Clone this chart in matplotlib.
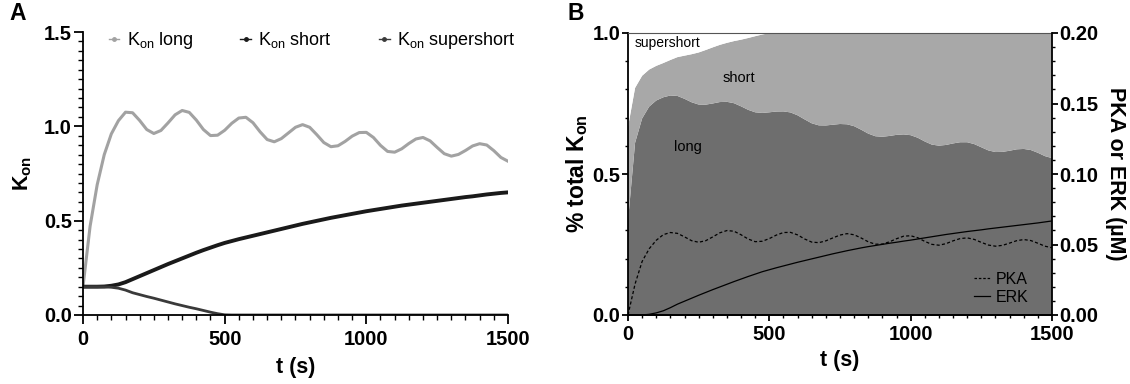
import matplotlib
matplotlib.use('Agg')
import matplotlib.pyplot as plt
import numpy as np
from matplotlib.ticker import MultipleLocator, FormatStrFormatter
from matplotlib.lines import Line2D

plt.rcParams['font.family'] = ['Liberation Sans', 'DejaVu Sans']
plt.rcParams['mathtext.fontset'] = 'custom'
plt.rcParams['mathtext.rm'] = 'Liberation Sans'
plt.rcParams['mathtext.bf'] = 'Liberation Sans:bold'
plt.rcParams['mathtext.it'] = 'Liberation Sans:italic'

# time points (s)
t = np.arange(0, 1501, 25)

# Kon (panel A), every 25 s
kon_long = [0.15, 0.47, 0.69, 0.85, 0.96, 1.03, 1.075, 1.072, 1.031, 0.983,
            0.962, 0.978, 1.018, 1.061, 1.084, 1.074, 1.033, 0.983, 0.951, 0.953,
            0.979, 1.016, 1.044, 1.048, 1.019, 0.971, 0.930, 0.918, 0.935, 0.965,
            0.995, 1.009, 0.995, 0.956, 0.914, 0.892, 0.897, 0.920, 0.948, 0.967,
            0.968, 0.941, 0.899, 0.867, 0.863, 0.881, 0.909, 0.933, 0.941, 0.923,
            0.888, 0.855, 0.842, 0.851, 0.872, 0.896, 0.908, 0.901, 0.871, 0.835,
            0.815]
kon_short = [0.150, 0.150, 0.150, 0.151, 0.155, 0.162, 0.174, 0.190, 0.206, 0.222,
             0.238, 0.254, 0.270, 0.285, 0.300, 0.315, 0.330, 0.344, 0.357, 0.370,
             0.382, 0.392, 0.402, 0.411, 0.420, 0.429, 0.438, 0.447, 0.456, 0.465,
             0.474, 0.483, 0.491, 0.499, 0.507, 0.515, 0.522, 0.529, 0.536, 0.543,
             0.550, 0.556, 0.562, 0.568, 0.574, 0.580, 0.585, 0.590, 0.595, 0.600,
             0.605, 0.610, 0.615, 0.620, 0.625, 0.629, 0.634, 0.639, 0.643, 0.647,
             0.650]
kon_supershort = [0.150, 0.150, 0.150, 0.149, 0.147, 0.142, 0.132, 0.118, 0.108, 0.098,
                  0.089, 0.079, 0.069, 0.059, 0.050, 0.041, 0.033, 0.024, 0.015, 0.007,
                  0.001] + [0.0] * 40

# PKA and ERK (uM), panel B right axis
pka = [0.0, 0.022, 0.038, 0.047, 0.053, 0.057, 0.0585, 0.0579, 0.0554, 0.0527,
       0.0516, 0.0527, 0.0554, 0.0583, 0.0599, 0.0594, 0.0569, 0.0539, 0.0520, 0.0523,
       0.0542, 0.0567, 0.0585, 0.0586, 0.0568, 0.0539, 0.0517, 0.0513, 0.0526, 0.0547,
       0.0567, 0.0577, 0.0569, 0.0546, 0.0519, 0.0502, 0.0503, 0.0519, 0.0541, 0.0559,
       0.0562, 0.0548, 0.0522, 0.0501, 0.0495, 0.0506, 0.0526, 0.0542, 0.0547, 0.0536,
       0.0515, 0.0496, 0.0488, 0.0494, 0.0510, 0.0527, 0.0535, 0.0528, 0.0509, 0.0488,
       0.0477]
erk = [0.0, 0.0, 0.0, 0.0005, 0.0015, 0.003, 0.0052, 0.0077, 0.0098, 0.0119,
       0.014, 0.016, 0.018, 0.0199, 0.0218, 0.0237, 0.0255, 0.0273, 0.029, 0.0307,
       0.0321, 0.0335, 0.0348, 0.0361, 0.0374, 0.0386, 0.0398, 0.041, 0.0422, 0.0434,
       0.0445, 0.0456, 0.0466, 0.0476, 0.0485, 0.0493, 0.0501, 0.0509, 0.0516, 0.0524,
       0.0531, 0.0539, 0.0547, 0.0555, 0.0563, 0.0571, 0.0578, 0.0585, 0.0592, 0.0598,
       0.0604, 0.0611, 0.0617, 0.0623, 0.0629, 0.0635, 0.0641, 0.0647, 0.0653, 0.066,
       0.0667]

kon_long = np.array(kon_long)
kon_short = np.array(kon_short)
kon_supershort = np.array(kon_supershort)
total = kon_long + kon_short + kon_supershort

c_long = '#a2a2a2'
c_short = '#1a1a1a'
c_super = '#3a3a3a'

fig = plt.figure(figsize=(11.3, 3.84), dpi=100)
axA = fig.add_axes([83/1130, 69/384, 425/1130, 283/384])
axB = fig.add_axes([628/1130, 69/384, 424/1130, 282/384])

# ---- panel A ----
axA.plot(t, kon_long, color=c_long, lw=2.2)
axA.plot(t, kon_short, color=c_short, lw=2.8)
axA.plot(t, kon_supershort, color=c_super, lw=2.0)
axA.set_xlim(0, 1500)
axA.set_ylim(0, 1.5)
axA.spines['top'].set_visible(False)
axA.spines['right'].set_visible(False)
axA.set_xticks([0, 500, 1000, 1500])
axA.xaxis.set_minor_locator(MultipleLocator(50))
axA.set_yticks([0, 0.5, 1.0, 1.5])
axA.yaxis.set_minor_locator(MultipleLocator(0.05))
axA.yaxis.set_major_formatter(FormatStrFormatter('%.1f'))
axA.set_xlabel('t (s)', fontsize=15.5, fontweight='bold')
axA.xaxis.set_label_coords(0.5, -0.148)
axA.set_ylabel(r'$\mathbf{K_{on}}$', fontsize=15.5, va='center')
axA.yaxis.set_label_coords(-0.141, 0.5)

handles = [Line2D([], [], color=c, lw=1, marker='o', ms=2.5) for c in (c_long, c_short, c_super)]
axA.legend(handles, [r'K$_{\mathrm{on}}$ long', r'K$_{\mathrm{on}}$ short', r'K$_{\mathrm{on}}$ supershort'],
           loc='center left', bbox_to_anchor=(0.06, 0.97), ncol=3, frameon=False, fontsize=13,
           handlelength=0.6, handletextpad=0.4, columnspacing=2.6, borderpad=0, borderaxespad=0)

# ---- panel B ----
axB.stackplot(t, kon_long / total, kon_short / total, kon_supershort / total,
              colors=['#6e6e6e', '#a8a8a8', 'white'])
axB.set_xlim(0, 1500)
axB.set_ylim(0, 1.0)
axB.set_xticks([0, 500, 1000, 1500])
axB.xaxis.set_minor_locator(MultipleLocator(50))
axB.set_yticks([0, 0.5, 1.0])
axB.yaxis.set_minor_locator(MultipleLocator(0.1))
axB.yaxis.set_major_formatter(FormatStrFormatter('%.1f'))
axB.spines['top'].set_color('#555555')
axB.spines['top'].set_linewidth(0.8)
axB.spines['right'].set_visible(False)
axB.set_xlabel('t (s)', fontsize=15.5, fontweight='bold')
axB.xaxis.set_label_coords(0.5, -0.124)
axB.set_ylabel(r'% total $\mathbf{K_{on}}$', fontsize=16.5, fontweight='bold', va='center')
axB.yaxis.set_label_coords(-0.12, 0.5)
axB.text(25, 0.965, 'supershort', fontsize=10, va='center')
axB.text(393, 0.84, 'short', fontsize=10.5, va='center', ha='center')
axB.text(212, 0.596, 'long', fontsize=10.5, va='center', ha='center')

axR = axB.twinx()
axR.plot(t, pka, color='black', lw=0.9, ls=(0, (2.5, 1.8)))
axR.plot(t, erk, color='black', lw=0.9)
axR.set_ylim(0, 0.2)
axR.set_yticks([0, 0.05, 0.1, 0.15, 0.2])
axR.yaxis.set_minor_locator(MultipleLocator(0.01))
axR.yaxis.set_major_formatter(FormatStrFormatter('%.2f'))
axR.spines['top'].set_visible(False)
axR.spines['left'].set_visible(False)
axR.set_ylabel(r'PKA or ERK (µM)', fontsize=15.5, fontweight='bold', rotation=-90, va='center')
axR.yaxis.set_label_coords(1.149, 0.5)
axR.legend([Line2D([], [], color='black', lw=0.9, ls=(0, (2, 1.5))), Line2D([], [], color='black', lw=0.9)],
           ['PKA', 'ERK'], loc='center left', bbox_to_anchor=(0.815, 0.094), frameon=False,
           fontsize=11.5, handlelength=1.0, handletextpad=0.4, labelspacing=0.2,
           borderpad=0, borderaxespad=0)

for ax in (axA, axB, axR):
    ax.tick_params(which='major', direction='out', labelsize=14.5)
    for s in ax.get_xticklabels() + ax.get_yticklabels():
        s.set_fontweight('bold')
    for k in ('left', 'bottom', 'right'):
        ax.spines[k].set_linewidth(1.3)

axA.tick_params(which='major', length=6.5, width=1.3)
axA.tick_params(which='minor', length=3.3, width=1.0)
axA.tick_params(axis='x', pad=4.5)
axA.tick_params(axis='y', pad=1.5)
axB.tick_params(which='major', length=4.5, width=1.3)
axB.tick_params(which='minor', length=2.5, width=1.0)
axB.tick_params(axis='x', pad=3.0)
axB.tick_params(axis='y', pad=1.0)
axR.tick_params(which='major', length=4.0, width=1.3, pad=1.0)
axR.tick_params(which='minor', length=2.5, width=1.0)

fig.text(18/1130, 1 - 13/384, 'A', fontsize=16.5, fontweight='bold', va='center', ha='center')
fig.text(576/1130, 1 - 13/384, 'B', fontsize=16.5, fontweight='bold', va='center', ha='center')

fig.savefig('out.png', dpi=100)
